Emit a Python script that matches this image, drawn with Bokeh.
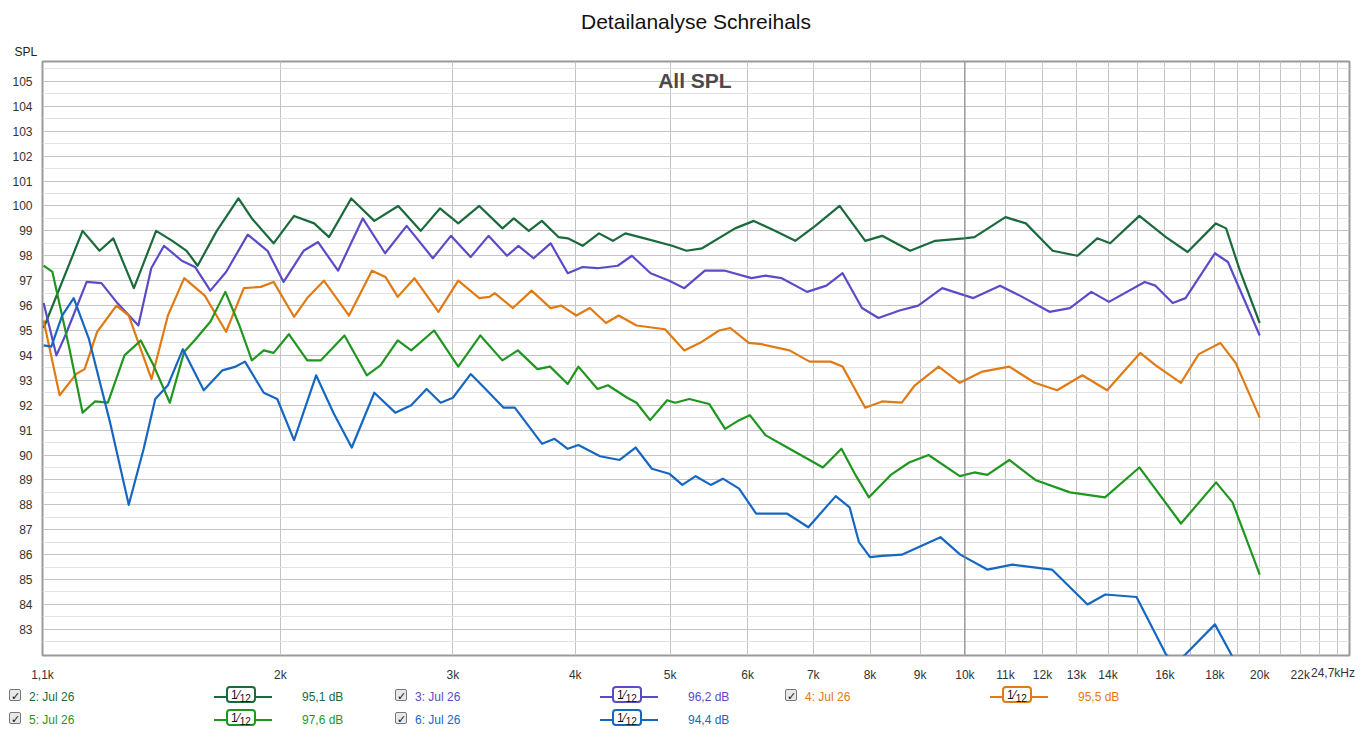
from bokeh.plotting import figure
from bokeh.models import (Range1d, FixedTicker, Label, Div, Title, Span)
from bokeh.layouts import column
from bokeh.embed import file_html
from bokeh.resources import INLINE

# measurement curves (frequency in Hz, SPL in dB)
f2 = [1146, 1256, 1307, 1350, 1417, 1493, 1551, 1604, 1646, 1722, 1812, 1870, 1968, 2065, 2165,
      2242, 2362, 2494, 2638, 2781, 2910, 3038, 3192, 3371, 3462, 3586, 3698, 3845, 3931, 4070,
      4230, 4370, 4500, 4709, 5024, 5195, 5390, 5825, 6088, 6397, 6710, 7034, 7448, 7910, 8231,
      8792, 9326, 9977, 10225, 11000, 11540, 12290, 13030, 13650, 14070, 15070, 16040, 16880,
      18040, 18480, 19090, 20000]
spl2 = [95.1, 99.0, 98.2, 98.7, 96.7, 99.0, 98.6, 98.2, 97.6, 99.0, 100.3, 99.5, 98.5, 99.6, 99.3,
        98.75, 100.3, 99.4, 100.0, 99.0, 99.9, 99.3, 100.0, 99.1, 99.5, 99.0, 99.4, 98.75, 98.7, 98.4,
        98.9, 98.6, 98.9, 98.7, 98.4, 98.2, 98.3, 99.1, 99.4, 99.0, 98.6, 99.2, 100.0, 98.6, 98.8,
        98.2, 98.6, 98.7, 98.75, 99.55, 99.3, 98.2, 98.0, 98.7, 98.5, 99.6, 98.75, 98.15,
        99.3, 99.1, 97.4, 95.3]

f3 = [1146, 1181, 1209, 1268, 1313, 1363, 1432, 1476, 1521, 1586,
      1636, 1696, 1760, 1852, 1940, 2015, 2112, 2185, 2290, 2427,
      2558, 2691, 2862, 2986, 3128, 3262, 3407, 3500, 3627, 3775,
      3930, 4070, 4215, 4420, 4570, 4775, 4990, 5170, 5425, 5690,
      6055, 6255, 6500, 6900, 7220, 7500, 7850, 8160, 8575, 8960,
      9480, 10200, 10860, 11380, 12200, 12800, 13460, 14030, 15260, 15650,
      16300, 16800, 18000, 18560, 20000]
spl3 = [96.1, 94.0, 94.9, 96.95, 96.9, 96.1, 95.2, 97.5, 98.4, 97.8,
        97.55, 96.6, 97.35, 98.85, 98.2, 96.95, 98.2, 98.55, 97.4, 99.5,
        98.1, 99.2, 97.9, 98.8, 97.95, 98.8, 98.0, 98.4, 97.9, 98.5,
        97.3, 97.55, 97.5, 97.6, 98.0, 97.3, 97.0, 96.7, 97.4, 97.4,
        97.1, 97.2, 97.1, 96.55, 96.8, 97.3, 95.9, 95.5, 95.8, 96.0,
        96.7, 96.3, 96.8, 96.4, 95.75, 95.9, 96.55, 96.15, 96.95, 96.8,
        96.1, 96.3, 98.1, 97.75, 94.8]

f4 = [1146, 1190, 1237, 1262, 1300, 1360, 1400, 1440, 1477, 1535,
      1595, 1674, 1760, 1835, 1910, 1968, 2065, 2130, 2215, 2350,
      2480, 2560, 2635, 2740, 2900, 3038, 3192, 3270, 3310, 3455,
      3610, 3775, 3870, 4010, 4140, 4300, 4430, 4620, 4940, 5170,
      5390, 5610, 5760, 6015, 6200, 6620, 6940, 7290, 7500, 7910,
      8230, 8620, 8890, 9400, 9880, 10420, 11100, 11780, 12420, 13180,
      13970, 15100, 15660, 16620, 17330, 18230, 18900, 20000]
spl4 = [95.4, 92.4, 93.25, 93.45, 94.95, 96.0, 95.6, 94.25, 93.05, 95.6,
        97.1, 96.4, 94.95, 96.7, 96.75, 96.95, 95.55, 96.3, 97.0, 95.6,
        97.4, 97.15, 96.35, 97.1, 95.75, 97.0, 96.3, 96.35, 96.5, 95.9,
        96.6, 95.9, 96.0, 95.6, 95.9, 95.3, 95.6, 95.2, 95.05, 94.2,
        94.55, 95.0, 95.1, 94.5, 94.45, 94.2, 93.75, 93.75, 93.55, 91.9,
        92.15, 92.1, 92.8, 93.55, 92.9, 93.35, 93.55, 92.9, 92.6, 93.2,
        92.6, 94.1, 93.6, 92.9, 94.05, 94.5, 93.7, 91.5]

f5 = [1146, 1170, 1218, 1256, 1293, 1333, 1386, 1440, 1484, 1542,
      1595, 1634, 1696, 1757, 1816, 1870, 1923, 1968, 2040, 2130,
      2200, 2325, 2450, 2530, 2635, 2720, 2870, 3038, 3200, 3370,
      3495, 3660, 3770, 3930, 4030, 4215, 4320, 4520, 4620, 4770,
      4965, 5060, 5230, 5480, 5690, 5880, 6030, 6255, 6620, 6940,
      7160, 7480, 7730, 7980, 8400, 8770, 9180, 9880, 10225, 10540,
      11100, 11800, 12800, 13900, 15070, 16620, 18050, 18760, 20000]
spl5 = [97.6, 97.35, 94.25, 91.7, 92.15, 92.1, 94.0, 94.6, 93.6, 92.1,
        94.15, 94.6, 95.35, 96.55, 95.2, 93.8, 94.2, 94.1, 94.85, 93.8,
        93.8, 94.8, 93.2, 93.6, 94.6, 94.2, 95.0, 93.55, 94.8, 93.8,
        94.2, 93.45, 93.55, 92.85, 93.55, 92.65, 92.8, 92.3, 92.1, 91.4,
        92.2, 92.1, 92.25, 92.05, 91.05, 91.4, 91.6, 90.8, 90.25, 89.8,
        89.5, 90.25, 89.2, 88.3, 89.2, 89.7, 90.0, 89.15, 89.3, 89.2,
        89.8, 89.0, 88.5, 88.3, 89.5, 87.25, 88.9, 88.1, 85.2]

f6 = [1146, 1167, 1197, 1230, 1275, 1340, 1400, 1450, 1490, 1535,
      1590, 1670, 1745, 1800, 1840, 1923, 1985, 2065, 2175, 2265,
      2365, 2494, 2620, 2720, 2820, 2915, 3000, 3128, 3230, 3380,
      3470, 3700, 3810, 3930, 4030, 4240, 4440, 4610, 4790, 4990,
      5145, 5310, 5500, 5660, 5880, 6120, 6340, 6580, 6920, 7380,
      7625, 7795, 8000, 8230, 8620, 9440, 9890, 10540, 11180, 12270,
      13340, 13910, 14970, 16040, 16380, 16800, 18000, 18700, 19500]
spl6 = [94.4, 94.35, 95.6, 96.3, 94.65, 91.3, 88.0, 90.25, 92.25, 92.8,
        94.25, 92.6, 93.4, 93.55, 93.75, 92.5, 92.25, 90.6, 93.2, 91.7,
        90.3, 92.5, 91.7, 92.0, 92.65, 92.1, 92.3, 93.25, 92.7, 91.9,
        91.9, 90.45, 90.65, 90.25, 90.4, 89.95, 89.8, 90.3, 89.45, 89.25,
        88.8, 89.15, 88.8, 89.05, 88.65, 87.65, 87.65, 87.65, 87.1, 88.35,
        87.9, 86.5, 85.9, 85.95, 86.0, 86.7, 86.0, 85.4, 85.6, 85.4,
        84.0, 84.4, 84.3, 82.0, 81.6, 82.0, 83.2, 82.0, 80.5]

names = ["2: Jul 26", "3: Jul 26", "4: Jul 26", "5: Jul 26", "6: Jul 26"]
levels = ["95,1 dB", "96,2 dB", "95,5 dB", "97,6 dB", "94,4 dB"]
colors = ["#1a6a3c", "#5a4cc8", "#e07b14", "#1f961f", "#1667c2"]

x_ticks = [1143, 2000, 3000, 4000, 5000, 6000, 7000, 8000, 9000, 10000,
           11000, 12000, 13000, 14000, 16000, 18000, 20000, 22000]
x_tick_labels = ["1,1k", "2k", "3k", "4k", "5k", "6k", "7k", "8k", "9k", "10k",
                 "11k", "12k", "13k", "14k", "16k", "18k", "20k", "22k"]
x_end_label = "24,7kHz"
x_grid = [2000, 3000, 4000, 5000, 6000, 7000, 8000, 9000, 10000, 11000, 12000, 13000,
          14000, 15000, 16000, 17000, 18000, 19000, 20000, 21000, 22000, 23000, 24000]
y_ticks = list(range(83, 106))

p = figure(width=1353, height=684, x_axis_type="log",
           x_range=Range1d(1143, 24700), y_range=Range1d(81.95, 105.8),
           output_backend="svg", toolbar_location=None,
           min_border_left=42, min_border_right=4, min_border_top=0, min_border_bottom=22)
p.title.text = ""
p.add_layout(Title(text="SPL", align="left", text_font_size="12px", text_font_style="normal",
                   text_font="Liberation Sans", text_color="#222", offset=-28, standoff=6), "above")
p.add_layout(Title(text="Detailanalyse Schreihals", align="center", text_font_size="21px",
                   text_font_style="normal", text_font="Liberation Sans", text_color="#111",
                   standoff=14), "above")
p.background_fill_color = "white"
p.border_fill_color = "white"
p.outline_line_color = "#9a9a9a"
p.outline_line_width = 2

p.xaxis.ticker = FixedTicker(ticks=x_ticks)
p.xaxis.major_label_overrides = dict(zip(x_ticks, x_tick_labels))
p.yaxis.ticker = FixedTicker(ticks=y_ticks)
for ax in p.xaxis + p.yaxis:
    ax.axis_line_color = None
    ax.major_tick_line_color = None
    ax.minor_tick_line_color = None
    ax.major_label_text_font = "Liberation Sans"
    ax.major_label_text_font_size = "12px"
    ax.major_label_text_color = "#333"
p.xaxis.major_label_standoff = 6
p.yaxis.major_label_standoff = 4

p.xgrid.ticker = FixedTicker(ticks=x_grid)
p.xgrid.grid_line_color = "#c4c4c4"
p.ygrid.ticker = FixedTicker(ticks=y_ticks, minor_ticks=[v + 0.5 for v in range(81, 106)])
p.ygrid.grid_line_color = "#c4c4c4"
p.ygrid.minor_grid_line_color = "#e2e2e2"
p.add_layout(Span(location=10000, dimension="height", line_color="#808080", line_width=1))

for fs, ss, c in zip([f2, f3, f4, f5, f6], [spl2, spl3, spl4, spl5, spl6], colors):
    p.line(fs, ss, line_color=c, line_width=2.2, line_join="round")

p.add_layout(Label(x=5300, y=105.05, text="All SPL", text_align="center", text_baseline="middle",
                   text_font="Liberation Sans", text_font_size="21px", text_font_style="bold",
                   text_color="#4a4a4a"))

# legend rows
cols_x = [4, 390, 780]
rows_y = [0, 23]
items = [f'<div style="position:absolute;left:1306px;top:-24px;color:#333;font-size:12px;'
         f'white-space:nowrap;">{x_end_label}</div>']
for i, (n, lv, c) in enumerate(zip(names, levels, colors)):
    cx = cols_x[i % 3]
    ry = rows_y[i // 3]
    items.append(
        f'<div style="position:absolute;left:{cx}px;top:{ry}px;width:12px;height:12px;'
        f'border:1px solid #777;border-radius:2px;background:#e8e8e8;font-size:11px;line-height:12px;'
        f'text-align:center;color:#111;">&#10003;</div>'
        f'<div style="position:absolute;left:{cx + 20}px;top:{ry}px;color:{c};">{n}</div>'
        f'<div style="position:absolute;left:{cx + 205}px;top:{ry + 7}px;width:58px;height:2px;background:{c};"></div>'
        f'<div style="position:absolute;left:{cx + 217}px;top:{ry - 3}px;width:30px;height:17px;'
        f'border:2px solid {c};border-radius:4px;background:white;color:#111;font-size:12px;'
        f'line-height:15px;text-align:center;">1&#8260;<span style="font-size:10px;vertical-align:-3px">12</span></div>'
        f'<div style="position:absolute;left:{cx + 293}px;top:{ry}px;color:{c};">{lv}</div>')
legend = Div(text='<div style="position:relative;width:1353px;height:40px;font-family:\'Liberation Sans\';'
                  'font-size:12px;">' + "".join(items) + "</div>",
             width=1353, height=40, styles={"overflow": "visible"})

layout = column(p, legend, spacing=0)
open("out.html", "w").write(file_html(layout, INLINE))
